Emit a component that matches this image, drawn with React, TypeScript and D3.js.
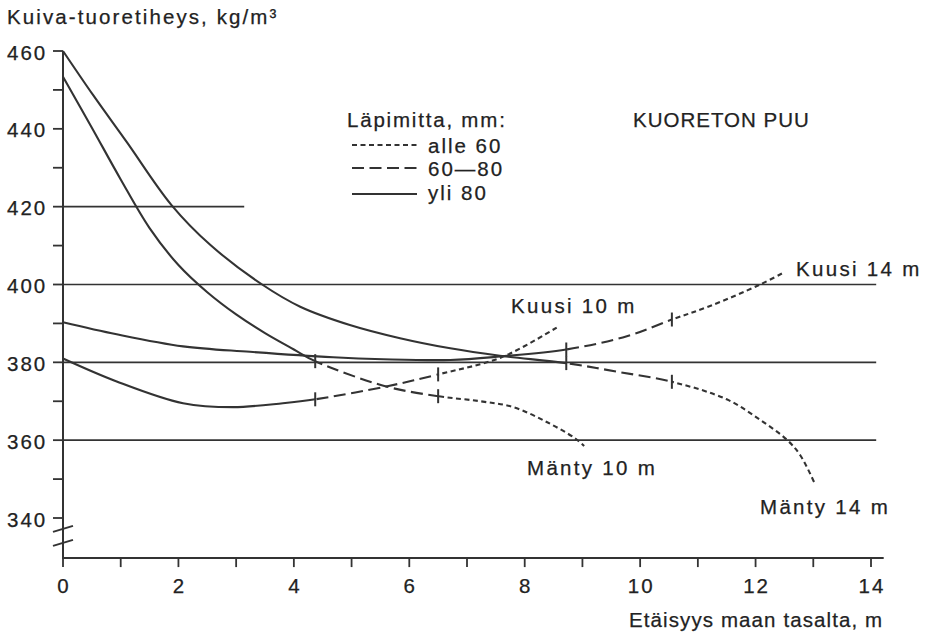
import React from "react";
import * as d3 from "d3";

// ---- data ----
const X_TICKS_MINOR = [0, 1, 2, 3, 4, 5, 6, 7, 8, 9, 10, 11, 12, 13, 14];
const X_TICK_LABELS = [0, 2, 4, 6, 8, 10, 12, 14];
const Y_TICKS_MINOR = [340, 350, 360, 370, 380, 390, 400, 410, 420, 430, 440, 450, 460];
const Y_TICK_LABELS = [340, 360, 380, 400, 420, 440, 460];
const GRID_VALUES = [420, 400, 380, 360];
const GRID_ENDS = [3.14, 14.09, 14.09, 14.09];
const Y_AXIS_BOTTOM = 329.7;
const X_AXIS_END = 14.22;

const manty14: [number, number][] = [
  [0, 460], [0.52, 448.7], [1.1, 436.7], [1.88, 420.4], [2.55, 410.2], [3.45, 400],
  [4.11, 394.3], [4.97, 389.6], [5.84, 386.2], [6.71, 383.6], [7.57, 381.7], [8.72, 379.8],
  [9.6, 377.6], [10.55, 375], [11.5, 370.5], [12.08, 365.2], [12.55, 360], [12.78, 356],
  [13.03, 348.7],
];
const manty10: [number, number][] = [
  [0, 453.4], [0.5, 440.3], [1.0, 427], [1.5, 414.5], [2.0, 405], [2.5, 398],
  [3.0, 392.3], [3.5, 387.5], [4.0, 383.3], [4.37, 380.3], [5.6, 373.8], [6.5, 371.3],
  [7.23, 370], [7.8, 368.5], [8.39, 364.6], [8.87, 360.5], [9.03, 358.5],
];
const kuusi14: [number, number][] = [
  [0, 390.3], [0.93, 387.2], [2.08, 384.1], [3.24, 382.7], [4.68, 381.3], [5.55, 380.8],
  [6.71, 380.6], [7.57, 381.5], [8.72, 383.3], [9.77, 386.7], [10.55, 391],
  [11.2, 394.4], [12.08, 400], [12.48, 403],
];
const kuusi10: [number, number][] = [
  [0, 381], [0.93, 375.1], [2.08, 369.5], [2.95, 368.5], [3.81, 369.5], [4.37, 370.5],
  [5.6, 373.8], [6.5, 376.9], [7.6, 381.3], [8.56, 389],
];

const SERIES = [
  { name: "Mänty 14 m", points: manty14, ticks: [8.72, 10.55], label: [760, 514] },
  { name: "Mänty 10 m", points: manty10, ticks: [4.37, 6.5], label: [527, 475] },
  { name: "Kuusi 14 m", points: kuusi14, ticks: [8.72, 10.55], label: [796, 276] },
  { name: "Kuusi 10 m", points: kuusi10, ticks: [4.37, 6.5], label: [511, 313] },
];

const LEGEND_TITLE = "Läpimitta, mm:";
const LEGEND_ITEMS = ["alle 60", "60—80", "yli 80"];
const Y_TITLE = "Kuiva-tuoretiheys, kg/m³";
const X_TITLE = "Etäisyys maan tasalta, m";
const CHART_NOTE = "KUORETON PUU";

// ---- style ----
const W = 926;
const H = 642;
const INK = "#333";
const TXT = "#222";
const FONT = "'Liberation Sans', Arial, Helvetica, sans-serif";
const FS = 20.5;
const DOT = "5 3.5";
const DASH = "12 5.5";

export default function App() {
  const x = d3.scaleLinear().domain([0, 14]).range([63, 871]);
  const y = d3.scaleLinear().domain([340, 460]).range([518, 51]);
  const line = d3
    .line<[number, number]>()
    .x((d) => x(d[0]))
    .y((d) => y(d[1]))
    .curve(d3.curveCatmullRom.alpha(0.5));

  const axisY = y(Y_AXIS_BOTTOM);
  const x0 = x(0);

  const text = (
    s: string,
    tx: number,
    ty: number,
    opts: { anchor?: string; ls?: number; key?: string | number } = {}
  ) => (
    <text
      key={opts.key ?? s}
      x={tx}
      y={ty}
      textAnchor={opts.anchor ?? "start"}
      style={{ letterSpacing: `${opts.ls ?? 2}px` }}
      fontFamily={FONT}
      fontSize={FS}
      fill={TXT}
      stroke={TXT}
      strokeWidth={0.25}
    >
      {s}
    </text>
  );

  const valueAt = (pts: [number, number][], xv: number) => {
    const p = pts.find((d) => Math.abs(d[0] - xv) < 1e-6);
    return p ? p[1] : 0;
  };

  return (
    <svg
      width={W}
      height={H}
      viewBox={`0 0 ${W} ${H}`}
      style={{ position: "absolute", left: 0, top: 0, background: "#fff" }}
    >
      <defs>
        {SERIES.map((s, i) => (
          <React.Fragment key={i}>
            <clipPath id={`c${i}a`}>
              <rect x={0} y={0} width={x(s.ticks[0])} height={H} />
            </clipPath>
            <clipPath id={`c${i}b`}>
              <rect x={x(s.ticks[0])} y={0} width={x(s.ticks[1]) - x(s.ticks[0])} height={H} />
            </clipPath>
            <clipPath id={`c${i}c`}>
              <rect x={x(s.ticks[1])} y={0} width={W - x(s.ticks[1])} height={H} />
            </clipPath>
          </React.Fragment>
        ))}
      </defs>

      {/* grid lines */}
      {GRID_VALUES.map((v, i) => (
        <line key={v} x1={x0} x2={x(GRID_ENDS[i])} y1={y(v)} y2={y(v)} stroke={INK} strokeWidth={1.6} />
      ))}

      {/* axes */}
      <line x1={x0} x2={x0} y1={y(460)} y2={axisY} stroke={INK} strokeWidth={2} />
      <line x1={x0 - 1} x2={x(X_AXIS_END)} y1={axisY} y2={axisY} stroke={INK} strokeWidth={2} />
      {Y_TICKS_MINOR.map((v) => (
        <line key={v} x1={x0 - 10} x2={x0} y1={y(v)} y2={y(v)} stroke={INK} strokeWidth={1.8} />
      ))}
      {X_TICKS_MINOR.map((v) => (
        <line key={v} x1={x(v)} x2={x(v)} y1={axisY} y2={axisY + 9} stroke={INK} strokeWidth={1.8} />
      ))}
      {/* axis break */}
      <line x1={x0 - 10} x2={x0 + 10} y1={y(337.2) + 3} y2={y(337.2) - 3} stroke={INK} strokeWidth={2} />
      <line x1={x0 - 10} x2={x0 + 10} y1={y(333.6) + 3} y2={y(333.6) - 3} stroke={INK} strokeWidth={2} />

      {/* tick labels */}
      {Y_TICK_LABELS.map((v) => text(String(v), 7, y(v) + 8.5, { key: `y${v}` }))}
      {X_TICK_LABELS.map((v) => text(String(v), x(v) + 1, 593, { anchor: "middle", key: `x${v}` }))}

      {/* titles */}
      {text(Y_TITLE, 7, 24, { ls: 2.1 })}
      {text(X_TITLE, 629, 627, { ls: 1.1 })}
      {text(CHART_NOTE, 633, 127, { ls: 1 })}

      {/* legend */}
      {text(LEGEND_TITLE, 347, 127, { ls: 1.8 })}
      {LEGEND_ITEMS.map((s, i) => {
        const ly = [145, 168, 194][i];
        const dash = [DOT, DASH, undefined][i];
        return (
          <g key={s}>
            <line x1={352} x2={417} y1={ly} y2={ly} stroke={INK} strokeWidth={2} strokeDasharray={dash} />
            {text(s, 428, [153, 176, 200][i], { key: `l${i}` })}
          </g>
        );
      })}

      {/* series */}
      {SERIES.map((s, i) => {
        const d = line(s.points) || "";
        return (
          <g key={s.name}>
            <path d={d} fill="none" stroke={INK} strokeWidth={2.1} clipPath={`url(#c${i}a)`} />
            <path d={d} fill="none" stroke={INK} strokeWidth={2.1} strokeDasharray={DASH} clipPath={`url(#c${i}b)`} />
            <path d={d} fill="none" stroke={INK} strokeWidth={2.1} strokeDasharray={DOT} clipPath={`url(#c${i}c)`} />
            {s.ticks.map((t) => {
              const yy = y(valueAt(s.points, t));
              return <line key={t} x1={x(t)} x2={x(t)} y1={yy - 7} y2={yy + 7} stroke={INK} strokeWidth={2} />;
            })}
            {text(s.name, s.label[0], s.label[1], { key: `n${i}`, ls: 2.3 })}
          </g>
        );
      })}
    </svg>
  );
}
